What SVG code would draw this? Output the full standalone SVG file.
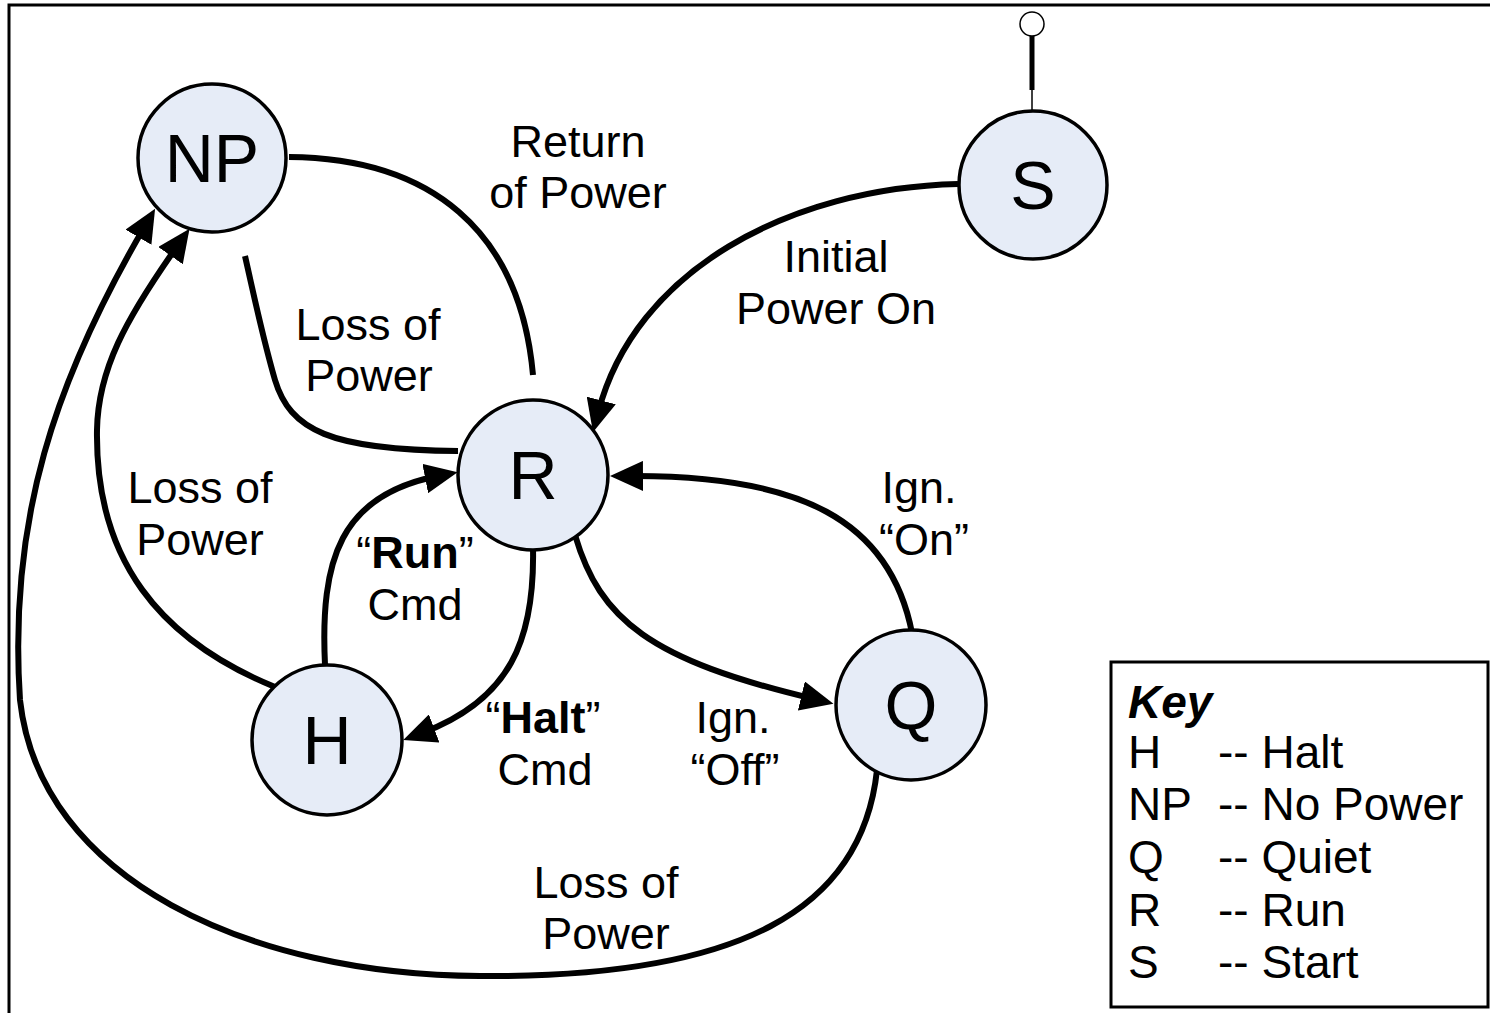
<svg xmlns="http://www.w3.org/2000/svg" width="1490" height="1013" viewBox="0 0 1490 1013">
<style>
.node{fill:#e6ecf7;stroke:#000;stroke-width:3.5}
.nl{font-family:"Liberation Sans",Arial,sans-serif;font-size:68px;text-anchor:middle;fill:#000}
.lb{font-family:"Liberation Sans",Arial,sans-serif;font-size:45px;text-anchor:middle;fill:#000}
.key{font-family:"Liberation Sans",Arial,sans-serif;font-size:46px;fill:#000}
.e{fill:none;stroke:#000;stroke-width:6}
.ea{fill:none;stroke:#000;stroke-width:6;marker-end:url(#ah)}
</style>
<defs>
<marker id="ah" markerUnits="userSpaceOnUse" markerWidth="34" markerHeight="30" viewBox="0 0 34 30" refX="13" refY="15" orient="auto">
<path d="M0,0 L33,15 L0,30 Z" fill="#000"/>
</marker>
</defs>
<rect width="1490" height="1013" fill="#fff"/>
<path d="M9,1013 V5 H1490" fill="none" stroke="#000" stroke-width="3"/>

<g id="connectors">
<path class="ea" d="M958,184 C790,188 635,270 598,413"/>
<path class="e" d="M289,157 C430,158 520,230 533,375"/>
<path class="e" d="M458,451 C330,450 290,430 275,380 C262,335 255,300 245,256"/>
<path class="ea" d="M275,687 C160,640 95,560 97,430 C98,370 125,320 178,245"/>
<path class="ea" d="M877,770 C862,910 740,978 480,976 C250,975 40,880 20,700 C8,520 55,380 145,226"/>
<path class="ea" d="M533,547 C535,640 510,700 422,733"/>
<path class="ea" d="M325,665 C320,560 340,495 438,476"/>
<path class="ea" d="M575,535 C600,620 650,660 814,699"/>
<path class="ea" d="M912,633 C890,520 800,475 630,476"/>
<circle cx="1032" cy="24" r="12" fill="#fff" stroke="#000" stroke-width="1.5"/>
<line x1="1032" y1="36" x2="1032" y2="90" stroke="#000" stroke-width="5"/>
<line x1="1032" y1="90" x2="1032" y2="111" stroke="#000" stroke-width="1.5"/>
</g>

<g id="node-NP"><circle class="node" cx="212" cy="158" r="74"/><text class="nl" x="212" y="182">NP</text></g>
<g id="node-S"><circle class="node" cx="1033" cy="185" r="74"/><text class="nl" x="1033" y="209">S</text></g>
<g id="node-R"><circle class="node" cx="533" cy="475" r="75"/><text class="nl" x="533" y="499">R</text></g>
<g id="node-H"><circle class="node" cx="327" cy="740" r="75"/><text class="nl" x="327" y="764">H</text></g>
<g id="node-Q"><circle class="node" cx="911" cy="705" r="75"/><text class="nl" x="911" y="729">Q</text></g>

<g id="labels">
<text class="lb" x="578" y="157">Return</text>
<text class="lb" x="578" y="208">of Power</text>
<text class="lb" x="836" y="272">Initial</text>
<text class="lb" x="836" y="324">Power On</text>
<text class="lb" x="368" y="340">Loss of</text>
<text class="lb" x="369" y="391">Power</text>
<text class="lb" x="200" y="503">Loss of</text>
<text class="lb" x="200" y="555">Power</text>
<text class="lb" x="415" y="568">“<tspan font-weight="bold">Run</tspan>”</text>
<text class="lb" x="415" y="620">Cmd</text>
<text class="lb" x="919" y="503">Ign.</text>
<text class="lb" x="924" y="555">“On”</text>
<text class="lb" x="543" y="733">“<tspan font-weight="bold">Halt</tspan>”</text>
<text class="lb" x="545" y="785">Cmd</text>
<text class="lb" x="733" y="733">Ign.</text>
<text class="lb" x="735" y="785">“Off”</text>
<text class="lb" x="606" y="898">Loss of</text>
<text class="lb" x="606" y="949">Power</text>
</g>

<g id="key">
<rect x="1111" y="662" width="377" height="345" fill="#fff" stroke="#000" stroke-width="3"/>
<text class="key" x="1128" y="718" font-weight="bold" font-style="italic">Key</text>
<text class="key" x="1128" y="768">H</text><text class="key" x="1218" y="768">-- Halt</text>
<text class="key" x="1128" y="820">NP</text><text class="key" x="1218" y="820">-- No Power</text>
<text class="key" x="1128" y="873">Q</text><text class="key" x="1218" y="873">-- Quiet</text>
<text class="key" x="1128" y="926">R</text><text class="key" x="1218" y="926">-- Run</text>
<text class="key" x="1128" y="978">S</text><text class="key" x="1218" y="978">-- Start</text>
</g>
</svg>
